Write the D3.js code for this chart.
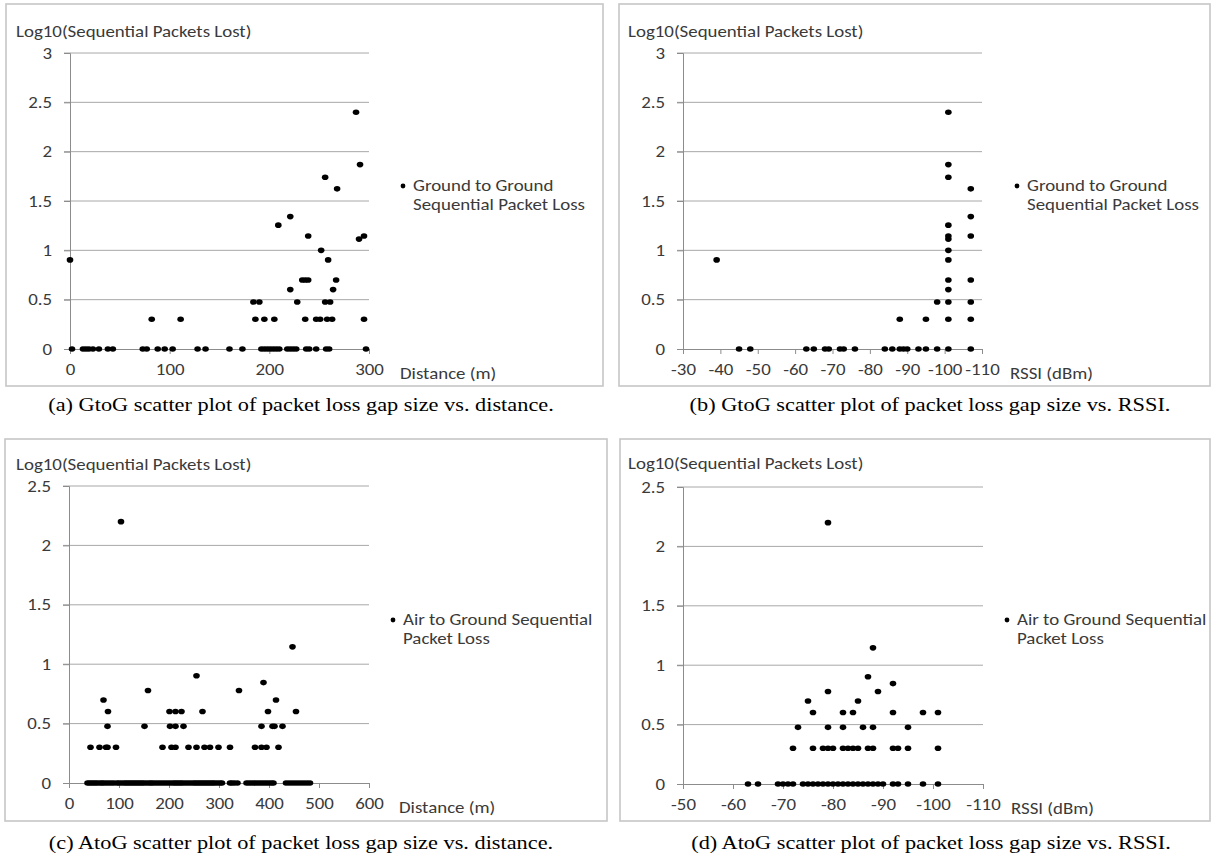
<!DOCTYPE html>
<html><head><meta charset="utf-8">
<script src="https://cdn.jsdelivr.net/npm/d3@7"></script>
<style>body{margin:0;background:#fff}</style>
</head><body><svg id="c" width="1215" height="858"></svg>
<script>
// ---------- DATA ----------
// (a) GtoG: distance (m) vs log10(sequential packets lost)
const gtogDist = [0, 2,13,16,19,23,29,38,43,73,77,88,95,103,128,136,160,173,192,195,198,201,204,207,210,218,221,224,227,237,240,247,257,260,297,
  82,111,184,190,186,195,205,209,221,221,228,233,236,239,236,239,247,251,252,256,261,258,263,259,264,267,268,256,287,291,290,295,295];
const gtogDistLoss = [0.903, 0,0,0,0,0,0,0,0,0,0,0,0,0,0,0,0,0,0,0,0,0,0,0,0,0,0,0,0,0,0,0,0,0,0,
  0.301,0.301,0.477,0.477,0.301,0.301,0.301,1.255,1.342,0.602,0.477,0.699,0.699,0.699,0.301,1.146,0.301,0.301,1.0,0.477,0.477,0.301,0.301,0.903,0.602,0.699,1.623,1.74,2.4,1.869,1.114,1.146,0.301];
// (b) GtoG: RSSI (dBm)
const gtogRssi = [-39,-45,-48,-63,-65,-68,-69,-72,-73,-76,-84,-86,-88,-89,-90,-93,-95,-98,-101,-107,
  -88,-95,-101,-107,-98,-101,-107,-101,-101,-107,-101,-101,-101,-101,-107,-101,-107,-107,-101,-101,-101];
const gtogRssiLoss = [0.903,0,0,0,0,0,0,0,0,0,0,0,0,0,0,0,0,0,0,0,
  0.301,0.301,0.301,0.301,0.477,0.477,0.477,0.602,0.699,0.699,0.903,1.0,1.114,1.146,1.146,1.255,1.342,1.623,1.74,1.869,2.4];
// (c) AtoG: distance (m)
const atogDist = [37,41,45,49,53,57,62,66,70,75,80,85,90,96,100,105,110,114,118,122,126,130,134,138,142,146,150,155,160,164,168,173,178,183,188,193,198,203,208,212,216,220,224,228,233,238,243,248,252,256,260,264,268,272,276,280,284,288,292,297,302,306,322,326,331,337,355,360,365,370,375,380,385,390,395,400,405,409,434,440,446,452,458,464,470,476,482,
  104,447,255,389,158,340,69,414,78,201,213,225,267,398,454,77,151,202,213,229,385,407,411,427,
  43,61,74,77,94,187,205,213,239,255,271,282,299,322,372,385,395,419];
const atogDistLoss = [0,0,0,0,0,0,0,0,0,0,0,0,0,0,0,0,0,0,0,0,0,0,0,0,0,0,0,0,0,0,0,0,0,0,0,0,0,0,0,0,0,0,0,0,0,0,0,0,0,0,0,0,0,0,0,0,0,0,0,0,0,0,0,0,0,0,0,0,0,0,0,0,0,0,0,0,0,0,0,0,0,0,0,0,0,0,0,
  2.2,1.146,0.903,0.845,0.778,0.778,0.699,0.699,0.602,0.602,0.602,0.602,0.602,0.602,0.602,0.477,0.477,0.477,0.477,0.477,0.477,0.477,0.477,0.477,
  0.301,0.301,0.301,0.301,0.301,0.301,0.301,0.301,0.301,0.301,0.301,0.301,0.301,0.301,0.301,0.301,0.301,0.301];
// (d) AtoG: RSSI (dBm)
const atogRssi = [-63,-65,-69,-70,-71,-72,-74,-75,-76,-77,-78,-79,-80,-81,-82,-83,-84,-85,-86,-87,-88,-89,-90,-92,-93,-95,-98,-101,
  -79,-88,-87,-92,-79,-89,-75,-85,-76,-82,-84,-92,-98,-101,-73,-79,-82,-86,-88,-95,
  -72,-76,-78,-79,-80,-82,-83,-84,-85,-87,-88,-92,-93,-95,-101];
const atogRssiLoss = [0,0,0,0,0,0,0,0,0,0,0,0,0,0,0,0,0,0,0,0,0,0,0,0,0,0,0,0,
  2.2,1.146,0.903,0.845,0.778,0.778,0.699,0.699,0.602,0.602,0.602,0.602,0.602,0.602,0.477,0.477,0.477,0.477,0.477,0.477,
  0.301,0.301,0.301,0.301,0.301,0.301,0.301,0.301,0.301,0.301,0.301,0.301,0.301,0.301,0.301];

const yTicksG = [0,0.5,1,1.5,2,2.5,3];
const yTicksA = [0,0.5,1,1.5,2,2.5];
const xTicksDistG = [0,100,200,300];
const xTicksRssiG = [-30,-40,-50,-60,-70,-80,-90,-100,-110];
const xTicksDistA = [0,100,200,300,400,500,600];
const xTicksRssiA = [-50,-60,-70,-80,-90,-100,-110];

const yTitle = "Log10(Sequential Packets Lost)";
const legendG = ["Ground to Ground", "Sequential Packet Loss"];
const legendA = ["Air to Ground Sequential", "Packet Loss"];
const captions = [
  "(a)  GtoG scatter plot of packet loss gap size vs. distance.",
  "(b)  GtoG scatter plot of packet loss gap size vs. RSSI.",
  "(c)  AtoG scatter plot of packet loss gap size vs. distance.",
  "(d)  AtoG scatter plot of packet loss gap size vs. RSSI."
];

// ---------- DRAW ----------
const svg = d3.select("#c");
const FONT = "Carlito, Lato, 'Open Sans', sans-serif";
const SERIF = "'Liberation Serif', 'Times New Roman', serif";
const TXT = "#3a3a3a";
const FS = 16, SX = 1.18;       // sans text size and horizontal stretch
const CFS = 18, CSX = 1.24;     // caption size and stretch

function label(g, x, y, s, opt={}){
  return g.append("text")
    .attr("transform",`translate(${x},${y}) scale(${opt.sx||SX},1)`)
    .attr("text-anchor",opt.anchor||"start")
    .attr("font-family",opt.family||FONT).attr("font-size",opt.size||FS)
    .attr("fill",opt.fill||TXT).text(s);
}

function panel(cfg){
  const g = svg.append("g");
  g.append("rect").attr("x",cfg.box[0]).attr("y",cfg.box[1]).attr("width",cfg.box[2]).attr("height",cfg.box[3])
    .attr("fill","#fff").attr("stroke","#c6c6c6").attr("stroke-width",1.6);
  const x = d3.scaleLinear().domain(cfg.xDomain).range([cfg.px0, cfg.px1]);
  const y = d3.scaleLinear().domain(cfg.yDomain).range([cfg.py0, cfg.py1]);
  // gridlines
  g.append("g").selectAll("line").data(cfg.yTicks.filter(d=>d!==0)).join("line")
    .attr("x1",cfg.px0-6).attr("x2",cfg.px1).attr("y1",d=>y(d)).attr("y2",d=>y(d))
    .attr("stroke","#a8a8a8").attr("stroke-width",1);
  // y axis
  const ya = g.append("g").attr("transform",`translate(${cfg.px0},0)`)
    .call(d3.axisLeft(y).tickValues(cfg.yTicks).tickSize(6).tickPadding(12).tickFormat(d=>String(d)));
  ya.select(".domain").attr("stroke","#8c8c8c");
  ya.selectAll(".tick line").attr("stroke","#8c8c8c");
  ya.selectAll("text").attr("font-family",FONT).attr("font-size",FS).attr("fill",TXT)
    .attr("x",-18/SX).attr("transform",`scale(${SX},1)`);
  // x axis
  const xa = g.append("g").attr("transform",`translate(0,${cfg.py0})`)
    .call(d3.axisBottom(x).tickValues(cfg.xTicks).tickSize(5).tickPadding(10).tickFormat(d=>String(d)));
  xa.select(".domain").attr("stroke","#8c8c8c");
  xa.selectAll(".tick line").attr("stroke","#8c8c8c");
  xa.selectAll("text").attr("font-family",FONT).attr("font-size",FS).attr("fill",TXT)
    .attr("transform",`scale(${SX},1)`);
  // points
  g.append("g").selectAll("ellipse").data(cfg.xs.map((v,i)=>[v,cfg.ys[i]])).join("ellipse")
    .attr("cx",d=>x(d[0])).attr("cy",d=>y(d[1])).attr("rx",3.3).attr("ry",2.8).attr("fill","#000");
  // titles
  label(g, cfg.titleX, cfg.titleY, yTitle);
  label(g, cfg.xtX, cfg.py0+30, cfg.xTitle);
  // legend
  g.append("circle").attr("cx",cfg.legX).attr("cy",cfg.legY).attr("r",2.4).attr("fill","#000");
  cfg.legend.forEach((t,i)=> label(g, cfg.legX+10, cfg.legY+5+i*19, t));
  // caption
  label(svg, cfg.capX, cfg.capY, cfg.caption, {anchor:"middle", family:SERIF, size:CFS, sx:CSX, fill:"#000"});
}

panel({box:[6,4,597,382], xDomain:[0,300], yDomain:[0,3], px0:70, px1:369, py0:349, py1:53,
  yTicks:yTicksG, xTicks:xTicksDistG, xs:gtogDist, ys:gtogDistLoss, titleX:16, titleY:37,
  xTitle:"Distance (m)", xtX:400, legX:403, legY:186, legend:legendG, caption:captions[0], capX:301, capY:411});
panel({box:[619,4,591,382], xDomain:[-30,-110], yDomain:[0,3], px0:683, px1:982, py0:349, py1:53,
  yTicks:yTicksG, xTicks:xTicksRssiG, xs:gtogRssi, ys:gtogRssiLoss, titleX:628, titleY:37,
  xTitle:"RSSI (dBm)", xtX:1010, legX:1017, legY:186, legend:legendG, caption:captions[1], capX:930, capY:411});
panel({box:[5,439,602,382], xDomain:[0,600], yDomain:[0,2.5], px0:69, px1:369, py0:783, py1:486,
  yTicks:yTicksA, xTicks:xTicksDistA, xs:atogDist, ys:atogDistLoss, titleX:16, titleY:470,
  xTitle:"Distance (m)", xtX:399, legX:393, legY:620, legend:legendA, caption:captions[2], capX:301, capY:849});
panel({box:[620,439,590,382], xDomain:[-50,-110], yDomain:[0,2.5], px0:683, px1:983, py0:784, py1:487,
  yTicks:yTicksA, xTicks:xTicksRssiA, xs:atogRssi, ys:atogRssiLoss, titleX:628, titleY:469,
  xTitle:"RSSI (dBm)", xtX:1011, legX:1007, legY:620, legend:legendA, caption:captions[3], capX:931, capY:849});
</script></body></html>
